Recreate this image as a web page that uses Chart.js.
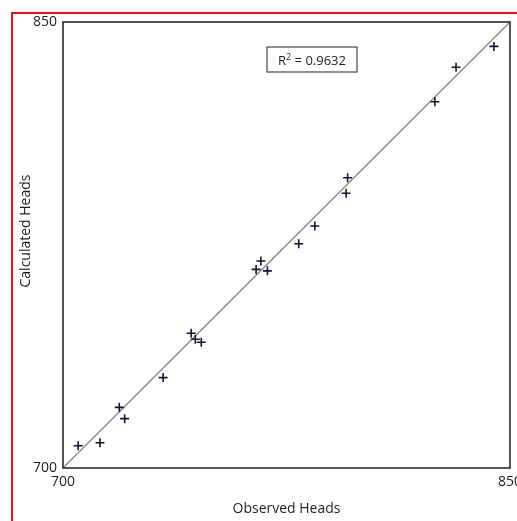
<!DOCTYPE html>
<html>
<head>
<meta charset="utf-8">
<script src="https://cdn.jsdelivr.net/npm/chart.js@4/dist/chart.umd.min.js"></script>
<style>
  html, body { margin: 0; padding: 0; background: #fff; overflow: hidden; }
  #wrap { position: relative; width: 517px; height: 521px; }
</style>
</head>
<body>
<div id="wrap"><canvas id="grafico" width="517" height="521"></canvas></div>
<script>
    // valores
    const observados = [705.1, 712.4, 718.9, 720.7, 733.6, 743.0, 744.4, 746.4, 764.8, 766.4, 768.6, 779.1, 784.5, 795.0, 795.5, 824.8, 831.9, 844.6];
    const calculados = [707.5, 708.5, 720.4, 716.6, 730.4, 745.3, 743.3, 742.3, 766.8, 769.6, 766.3, 775.4, 781.4, 792.4, 797.6, 823.2, 834.8, 841.8];
    const ticksEixo = [700, 850];
    const rQuadrado = '0.9632';
    const tituloX = 'Observed Heads';
    const tituloY = 'Calculated Heads';

    const pontos = observados.map((v, i) => ({ x: v, y: calculados[i] }));
    const linha = ticksEixo.map(v => ({ x: v, y: v }));

    const fonte = '"Open Sans", "Noto Sans", sans-serif';

    // moldura vermelha, borda do gráfico, caixa do R² e títulos
    const extras = {
      id: 'extras',
      beforeDraw(chart) {
        const ctx = chart.ctx;
        ctx.save();
        ctx.strokeStyle = '#e8141c';
        ctx.lineWidth = 2;
        ctx.beginPath();
        ctx.moveTo(12, 521);
        ctx.lineTo(12, 13);
        ctx.lineTo(517, 13);
        ctx.stroke();
        ctx.restore();
      },
      afterDraw(chart) {
        const ctx = chart.ctx;
        const a = chart.chartArea;
        ctx.save();

        ctx.strokeStyle = '#2a2a2a';
        ctx.lineWidth = 1.6;
        ctx.strokeRect(a.left, a.top, a.right - a.left, a.bottom - a.top);

        // caixa R²
        const bx = a.left + 204, by = a.top + 25, bw = 90, bh = 25;
        ctx.fillStyle = '#fff';
        ctx.fillRect(bx, by, bw, bh);
        ctx.strokeStyle = '#444';
        ctx.lineWidth = 1.2;
        ctx.strokeRect(bx, by, bw, bh);

        ctx.fillStyle = '#1e1e1e';
        ctx.textBaseline = 'alphabetic';
        ctx.font = '13px ' + fonte;
        const p1 = 'R', p3 = ' = ' + rQuadrado;
        const w1 = ctx.measureText(p1).width;
        const w3 = ctx.measureText(p3).width;
        ctx.font = '9px ' + fonte;
        const w2 = ctx.measureText('2').width;
        let x = bx + (bw - (w1 + w2 + w3)) / 2;
        const base = by + bh / 2 + 5;
        ctx.font = '13px ' + fonte;
        ctx.fillText(p1, x, base);
        x += w1;
        ctx.font = '9px ' + fonte;
        ctx.fillText('2', x, base - 5);
        x += w2;
        ctx.font = '13px ' + fonte;
        ctx.fillText(p3, x, base);

        // títulos dos eixos
        ctx.font = '14px ' + fonte;
        ctx.textAlign = 'center';
        ctx.textBaseline = 'middle';
        ctx.fillText(tituloX, (a.left + a.right) / 2, 509.5);
        ctx.translate(26, 231);
        ctx.rotate(-Math.PI / 2);
        ctx.fillText(tituloY, 0, 0);
        ctx.restore();
      }
    };

    new Chart(document.getElementById('grafico').getContext('2d'), {
      type: 'scatter',
      data: {
        datasets: [
          {
            label: 'Heads',
            data: pontos,
            pointStyle: 'cross',
            pointRadius: 4.5,
            pointHoverRadius: 4.5,
            borderColor: '#14143c',
            backgroundColor: '#14143c',
            pointBorderWidth: 1.6,
            order: 0
          },
          {
            label: '1:1',
            data: linha,
            showLine: true,
            borderColor: '#858585',
            borderWidth: 1.3,
            pointRadius: 0,
            order: 1
          }
        ]
      },
      options: {
        responsive: false,
        animation: false,
        events: [],
        layout: { padding: { top: 22, right: 7, left: 0, bottom: 0 } },
        plugins: {
          legend: { display: false },
          tooltip: { enabled: false }
        },
        scales: {
          x: {
            type: 'linear',
            min: ticksEixo[0],
            max: ticksEixo[ticksEixo.length - 1],
            afterBuildTicks: s => { s.ticks = ticksEixo.map(v => ({ value: v })); },
            grid: { display: false, drawTicks: false },
            border: { display: false },
            ticks: { color: '#1e1e1e', font: { family: fonte, size: 14 }, padding: 6, maxRotation: 0 },
            afterFit: s => { s.height = 53; s.paddingLeft = 0; s.paddingRight = 0; }
          },
          y: {
            type: 'linear',
            min: ticksEixo[0],
            max: ticksEixo[ticksEixo.length - 1],
            afterBuildTicks: s => { s.ticks = ticksEixo.map(v => ({ value: v })); },
            grid: { display: false, drawTicks: false },
            border: { display: false },
            ticks: { color: '#1e1e1e', font: { family: fonte, size: 14 }, padding: 6 },
            afterFit: s => { s.width = 63; s.paddingTop = 0; s.paddingBottom = 0; }
          }
        }
      },
      plugins: [extras]
    });
</script>
</body>
</html>
